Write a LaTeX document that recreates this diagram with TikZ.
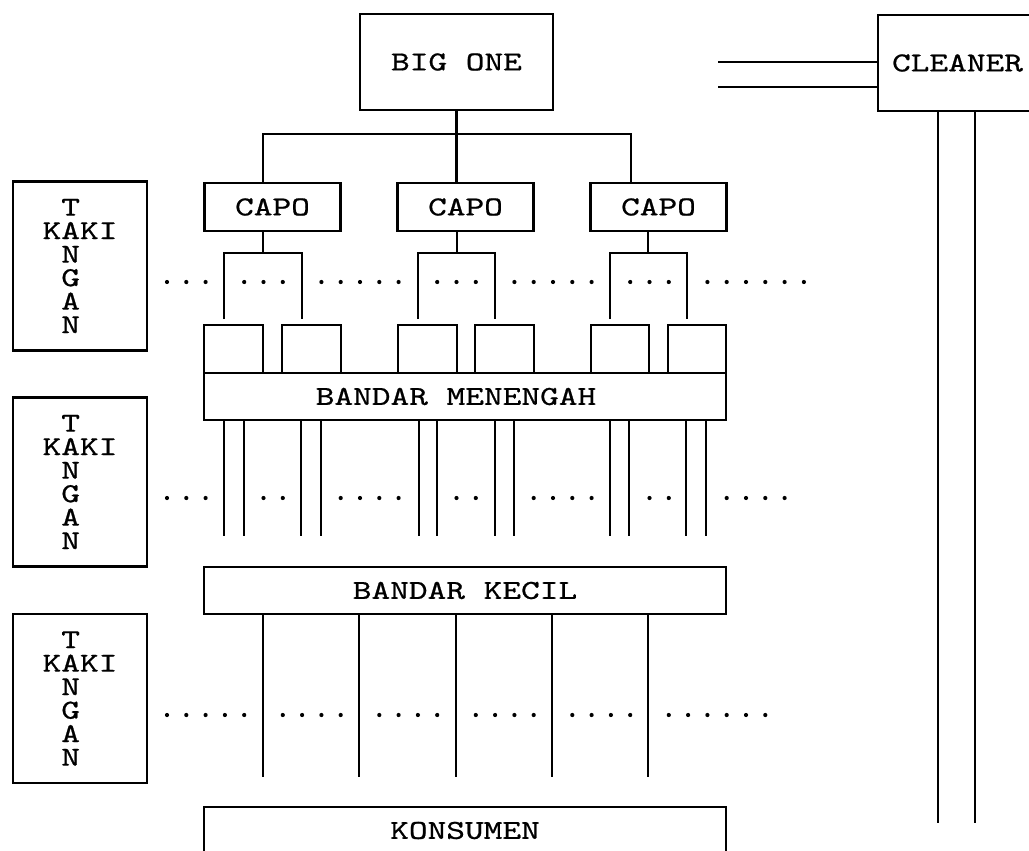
\documentclass[tikz,border=0pt]{standalone}
\usepackage{fontspec}
\newfontfamily\typer{lmmono10-regular}[Extension=.otf,FakeStretch=1.3,FakeBold=0.8]
\newlength{\du}
\setlength{\du}{0.5pt}
\newcommand{\kakitangan}{\phantom{K}T\\KAKI\\\phantom{K}N\\\phantom{K}G\\\phantom{K}A\\\phantom{K}N}
\tikzset{
  wire/.style={line width=2.4\du},
  box/.style={draw, line width=2.4\du, inner sep=0pt,
    font=\typer\fontsize{13.7pt}{11.75pt}\selectfont},
  capobox/.style={box, minimum width=136\du, minimum height=48\du},
  cellbox/.style={box, minimum width=58.5\du, minimum height=48\du},
  barbox/.style={box, minimum width=522\du, minimum height=47\du},
  kakibox/.style={box, align=left, minimum width=134\du, minimum height=169\du},
  dot/.style={fill=black}
}
\begin{document}
\begin{tikzpicture}
\pgftransformxscale{1.000000}
\pgftransformyscale{-1.000000}
\useasboundingbox (0\du,0\du) rectangle (1029\du,851\du);
% top of the ladder
\node[box, minimum width=193\du, minimum height=96\du] (bigone) at (456.5\du,62\du){BIG ONE};
\node[box, minimum width=159\du, minimum height=96\du] (cleaner) at (957.5\du,63\du){CLEANER};
\coordinate (feedA) at (718\du,62\du);
\coordinate (feedB) at (718\du,87\du);
\draw[wire] (feedA) -- (feedA -| cleaner.west);
\draw[wire] (feedB) -- (feedB -| cleaner.west);
\coordinate (legA) at (938\du,823\du);
\coordinate (legB) at (975\du,823\du);
\draw[wire] (legA |- cleaner.south) -- (legA);
\draw[wire] (legB |- cleaner.south) -- (legB);
% capos
\node[capobox] (capo1) at (272.5\du,207\du){CAPO};
\node[capobox] (capo2) at (465.5\du,207\du){CAPO};
\node[capobox] (capo3) at (658.5\du,207\du){CAPO};
\coordinate (busL) at (263\du,134\du);
\coordinate (busR) at (631\du,134\du);
\draw[wire] (busL |- capo1.north) -- (busL) -- (busR) -- (busR |- capo3.north);
\draw[wire] (bigone.south) -- (bigone.south |- capo2.north);
\foreach \n/\s/\l/\r in {1/263/224/302, 2/457/418/495, 3/648/610/687}{
  \coordinate (fork\n) at (\s\du,253\du);
  \coordinate (forkL\n) at (\l\du,319\du);
  \coordinate (forkR\n) at (\r\du,319\du);
  \draw[wire] (capo\n.south -| fork\n) -- (fork\n);
  \draw[wire] (forkL\n) |- (fork\n) -| (forkR\n);
}
% bandar menengah
\foreach \n/\x in {1/233.5, 2/311.5, 3/427.5, 4/504.5, 5/620, 6/697}
  \node[cellbox] (cell\n) at (\x\du,349\du){};
\node[barbox] (menengah) at (465\du,396.5\du){BANDAR MENENGAH\hspace*{18\du}};
\foreach \x in {224,244,301,321,419,437,495,514,610,629,686,706}{
  \coordinate (drop\x) at (\x\du,536\du);
  \draw[wire] (menengah.south -| drop\x) -- (drop\x);
}
% bandar kecil
\node[barbox] (kecil) at (465\du,590.5\du){BANDAR KECIL};
\foreach \x in {263,359,456,552,648}{
  \coordinate (sale\x) at (\x\du,777\du);
  \draw[wire] (kecil.south -| sale\x) -- (sale\x);
}
\node[barbox] (konsumen) at (465\du,830.5\du){KONSUMEN};
% kaki tangan
\foreach \n/\y in {1/266, 2/482, 3/698.5}
  \node[kakibox] (kaki\n) at (80\du,\y\du){\kakitangan};
% dotted rows
\foreach \k in {0,1,2,4,5,6,8,9,10,11,12,14,15,16,18,19,20,21,22,24,25,26,28,29,30,31,32,33}
  \fill[dot] (167\du+19.3*\k\du,282\du) circle (2.1\du);
\foreach \k in {0,1,2,5,6,9,10,11,12,15,16,19,20,21,22,25,26,29,30,31,32}
  \fill[dot] (167\du+19.3*\k\du,498\du) circle (2.1\du);
\foreach \k in {0,1,2,3,4,6,7,8,9,11,12,13,14,16,17,18,19,21,22,23,24,26,27,28,29,30,31}
  \fill[dot] (167\du+19.3*\k\du,715\du) circle (2.1\du);
\end{tikzpicture}
\end{document}
